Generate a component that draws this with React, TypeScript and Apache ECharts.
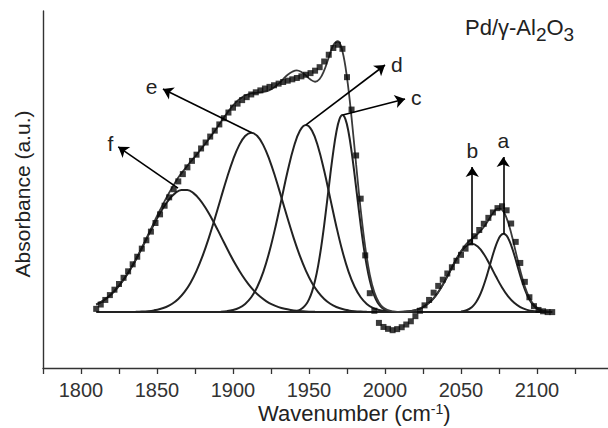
import React, { useEffect, useRef } from "react";
import * as echarts from "echarts";

// ---- experimental spectrum (squares), wavenumber grid 1810..2110 step 3 ----
const WN_START = 1810;
const WN_STEP = 3;
const ABSORBANCE = [
  0.012, 0.028, 0.045, 0.063, 0.083, 0.104, 0.127, 0.151, 0.177, 0.205,
  0.235, 0.266, 0.298, 0.33, 0.362, 0.394, 0.425, 0.455, 0.484, 0.511,
  0.536, 0.56, 0.583, 0.606, 0.628, 0.65, 0.672, 0.695, 0.718, 0.739,
  0.757, 0.772, 0.785, 0.796, 0.806, 0.814, 0.821, 0.828, 0.834, 0.84,
  0.846, 0.852, 0.857, 0.862, 0.867, 0.873, 0.879, 0.885, 0.894, 0.907,
  0.928, 0.953, 0.978, 0.99, 0.975, 0.87, 0.75, 0.58, 0.42, 0.21,
  0.07, 0.005, -0.04, -0.055, -0.062, -0.067, -0.063, -0.056, -0.046, -0.034,
  -0.015, 0.005, 0.025, 0.045, 0.072, 0.097, 0.12, 0.143, 0.166, 0.19,
  0.212, 0.235, 0.258, 0.281, 0.304, 0.327, 0.349, 0.369, 0.385, 0.392,
  0.377, 0.328, 0.26, 0.182, 0.112, 0.055, 0.022, 0.008, 0.003, 0.0,
  0.0,
];
// ---- cumulative fit curve, same grid ----
const FIT = [
  0.028, 0.037, 0.048, 0.061, 0.078, 0.097, 0.12, 0.145, 0.173, 0.205,
  0.238, 0.273, 0.308, 0.344, 0.378, 0.411, 0.442, 0.471, 0.498, 0.521,
  0.542, 0.563, 0.582, 0.604, 0.625, 0.648, 0.671, 0.696, 0.721, 0.744,
  0.765, 0.783, 0.796, 0.805, 0.81, 0.812, 0.814, 0.816, 0.822, 0.832,
  0.846, 0.863, 0.879, 0.89, 0.895, 0.889, 0.876, 0.861, 0.853, 0.863,
  0.895, 0.943, 0.988, 1.003, 0.966, 0.868, 0.72, 0.547, 0.38, 0.241,
  0.139, 0.073, 0.036, 0.016, 0.007, 0.003, 0.001, 0.001, 0.002, 0.004,
  0.008, 0.013, 0.022, 0.034, 0.051, 0.074, 0.101, 0.132, 0.165, 0.197,
  0.225, 0.249, 0.266, 0.28, 0.295, 0.315, 0.34, 0.366, 0.383, 0.379,
  0.348, 0.293, 0.223, 0.154, 0.095, 0.053, 0.027, 0.012, 0.005, 0.002,
  0.001,
];

// ---- fitted component bands ----
const PEAK_F_START = 1810; const PEAK_F_STEP = 4;
const PEAK_F = [
  0.0276, 0.04, 0.0566, 0.0779, 0.1045, 0.1363, 0.1733, 0.2145, 0.2586, 0.3034,
  0.3466, 0.3856, 0.4177, 0.4406, 0.4525, 0.4525, 0.4406, 0.4177, 0.3856, 0.3466,
  0.3034, 0.2586, 0.2145, 0.1733, 0.1363, 0.1045, 0.0779, 0.0566, 0.04, 0.0276,
  0.0185, 0.0121, 0.0077, 0.0047, 0.0029, 0.0017, 0.001, 0.0005,
];
const PEAK_E_START = 1836; const PEAK_E_STEP = 4;
const PEAK_E = [
  0.001, 0.0019, 0.0035, 0.0064, 0.0112, 0.019, 0.0309, 0.0487, 0.074, 0.1082,
  0.1528, 0.208, 0.273, 0.3456, 0.4219, 0.4967, 0.5639, 0.6175, 0.652, 0.664,
  0.652, 0.6175, 0.5639, 0.4967, 0.4219, 0.3456, 0.273, 0.208, 0.1528, 0.1082,
  0.074, 0.0487, 0.0309, 0.019, 0.0112, 0.0064, 0.0035, 0.0019, 0.001,
];
const PEAK_D_START = 1892; const PEAK_D_STEP = 4;
const PEAK_D = [
  0.0015, 0.0035, 0.0077, 0.0158, 0.0304, 0.0551, 0.0938, 0.1499, 0.225, 0.3173,
  0.4203, 0.5231, 0.6116, 0.6717, 0.693, 0.6717, 0.6116, 0.5231, 0.4203, 0.3173,
  0.225, 0.1499, 0.0938, 0.0551, 0.0304, 0.0158, 0.0077, 0.0035, 0.0015,
];
const PEAK_C_START = 1940; const PEAK_C_STEP = 2;
const PEAK_C = [
  0.0022, 0.0045, 0.0086, 0.0159, 0.028, 0.0472, 0.0759, 0.1167, 0.1714, 0.2408,
  0.3232, 0.4145, 0.5082, 0.5955, 0.6668, 0.7137, 0.73, 0.7137, 0.6668, 0.5955,
  0.5082, 0.4145, 0.3232, 0.2408, 0.1714, 0.1167, 0.0759, 0.0472, 0.028, 0.0159,
  0.0086, 0.0045, 0.0022,
];
const PEAK_B_START = 2009; const PEAK_B_STEP = 4;
const PEAK_B = [
  0.0007, 0.0018, 0.0043, 0.0093, 0.0186, 0.0342, 0.0582, 0.0912, 0.1317, 0.1752,
  0.2149, 0.2429, 0.253, 0.2429, 0.2149, 0.1752, 0.1317, 0.0912, 0.0582, 0.0342,
  0.0186, 0.0093, 0.0043, 0.0018, 0.0007,
];
const PEAK_A_START = 2050; const PEAK_A_STEP = 2;
const PEAK_A = [
  0.0021, 0.0041, 0.0077, 0.0137, 0.0232, 0.0375, 0.0576, 0.0842, 0.1168, 0.1543,
  0.1936, 0.231, 0.2621, 0.2828, 0.29, 0.2828, 0.2621, 0.231, 0.1936, 0.1543,
  0.1168, 0.0842, 0.0576, 0.0375, 0.0232, 0.0137, 0.0077, 0.0041, 0.0021,
];

const BASELINE_RANGE = [1810, 2110];
const BASELINE_LEVEL = 0;

// ---- band labels and arrows (wavenumber, absorbance) ----
const BAND_LABELS = ["f", "e", "d", "c", "b", "a"];
const ARROW_FROM = [
  [1863.8, 0.459], [1912.3, 0.664], [1948, 0.693], [1972.2, 0.73], [2057.4, 0.254], [2077.8, 0.29],
];
const ARROW_TO = [
  [1824.5, 0.612], [1853.9, 0.826], [2000, 0.915], [2013.2, 0.789], [2057.4, 0.537], [2077.8, 0.574],
];
const LABEL_NUDGE = [[0, 0], [0, 0], [7, 3], [0, 0], [0, 0], [0, 0]];

const X_MIN = 1775;
const X_MAX = 2150;
const X_INTERVAL = 25;
const Y_MIN = -0.207;
const Y_MAX = 1.115;

const FONT = '"Liberation Sans", Arial, Helvetica, sans-serif';
const INK = "#222";

function toPairs(start: number, step: number, values: number[]) {
  return values.map((v, i) => [start + i * step, v]);
}

export default function App() {
  const ref = useRef<HTMLDivElement>(null);

  useEffect(() => {
    if (!ref.current) return;
    const chart = echarts.init(ref.current, null, { renderer: "svg" });

    const components = [
      toPairs(PEAK_F_START, PEAK_F_STEP, PEAK_F),
      toPairs(PEAK_E_START, PEAK_E_STEP, PEAK_E),
      toPairs(PEAK_D_START, PEAK_D_STEP, PEAK_D),
      toPairs(PEAK_C_START, PEAK_C_STEP, PEAK_C),
      toPairs(PEAK_B_START, PEAK_B_STEP, PEAK_B),
      toPairs(PEAK_A_START, PEAK_A_STEP, PEAK_A),
    ];

    const componentSeries = components.map((d, i) => ({
      type: "line",
      name: "band " + BAND_LABELS[i],
      data: d,
      smooth: 0.4,
      showSymbol: false,
      silent: true,
      lineStyle: { color: INK, width: 2 },
      z: 2,
    }));

    const arrowData = BAND_LABELS.map((lab, i) => [
      { coord: ARROW_FROM[i] },
      {
        coord: ARROW_TO[i],
        label: { show: true, formatter: lab, offset: LABEL_NUDGE[i] },
      },
    ]);

    const option: any = {
      animation: false,
      backgroundColor: "#ffffff",
      grid: { left: 43, top: 11, width: 570, height: 357, containLabel: false },
      xAxis: {
        type: "value",
        min: X_MIN,
        max: X_MAX,
        interval: X_INTERVAL,
        axisLine: { onZero: false, lineStyle: { color: "#333", width: 1.4 } },
        axisTick: { show: true, length: 6, lineStyle: { color: "#333", width: 1.3 } },
        axisLabel: {
          fontSize: 20,
          fontFamily: FONT,
          color: "#333",
          margin: 12,
          formatter: (v: number) => (v % 50 === 0 && v < X_MAX ? String(v) : ""),
        },
        splitLine: { show: false },
      },
      yAxis: {
        type: "value",
        min: Y_MIN,
        max: Y_MAX,
        axisLine: { show: true, onZero: false, lineStyle: { color: "#333", width: 1.4 } },
        axisTick: { show: false },
        axisLabel: { show: false },
        splitLine: { show: false },
      },
      graphic: [
        {
          type: "text",
          x: 22,
          y: 194,
          rotation: Math.PI / 2,
          style: {
            text: "Absorbance (a.u.)",
            fontSize: 21,
            fontFamily: FONT,
            fill: "#222",
            align: "center",
            verticalAlign: "middle",
          },
        },
        {
          type: "text",
          x: 258,
          y: 402,
          style: {
            text: "{n|Wavenumber (cm}{sup|-1}{n|)}",
            fill: "#222",
            align: "left",
            verticalAlign: "top",
            rich: {
              n: { fontSize: 22, fontFamily: FONT, lineHeight: 26, verticalAlign: "top", fill: "#222" },
              sup: { fontSize: 14, fontFamily: FONT, lineHeight: 16, verticalAlign: "top", fill: "#222" },
            },
          },
        },
        {
          type: "text",
          x: 465,
          y: 16,
          style: {
            text: "{n|Pd/γ-Al}{s|2}{n|O}{s|3}",
            fill: "#222",
            align: "left",
            verticalAlign: "top",
            rich: {
              n: { fontSize: 22, fontFamily: FONT, lineHeight: 25, verticalAlign: "top", fill: "#222" },
              s: { fontSize: 19, fontFamily: FONT, lineHeight: 19, padding: [12, 0, 0, 0], fill: "#222" },
            },
          },
        },
      ],
      series: [
        ...componentSeries,
        {
          type: "line",
          name: "baseline",
          data: BASELINE_RANGE.map((x) => [x, BASELINE_LEVEL]),
          showSymbol: false,
          silent: true,
          lineStyle: { color: INK, width: 2 },
          z: 2,
          markLine: {
            silent: true,
            animation: false,
            symbol: ["none", "arrow"],
            symbolSize: 10,
            precision: 4,
            lineStyle: { color: "#000", width: 1.6, type: "solid" },
            label: {
              show: true,
              position: "end",
              distance: 6,
              fontSize: 21,
              fontFamily: FONT,
              color: "#222",
            },
            emphasis: { disabled: true },
            data: arrowData,
          },
        },
        {
          type: "line",
          name: "fit",
          data: toPairs(WN_START, WN_STEP, FIT),
          smooth: 0.4,
          showSymbol: false,
          silent: true,
          lineStyle: { color: "#3a3a3a", width: 1.8 },
          z: 3,
        },
        {
          type: "scatter",
          name: "spectrum",
          data: toPairs(WN_START, WN_STEP, ABSORBANCE),
          symbol: "rect",
          symbolSize: 6,
          silent: true,
          itemStyle: { color: "#0a0a0a" },
          z: 4,
        },
      ],
    };

    chart.setOption(option);
    return () => chart.dispose();
  }, []);

  return (
    <div style={{ position: "fixed", left: 0, top: 0, width: 608, height: 428, overflow: "hidden", background: "#fff" }}>
      <div ref={ref} style={{ width: 620, height: 428 }} />
    </div>
  );
}
